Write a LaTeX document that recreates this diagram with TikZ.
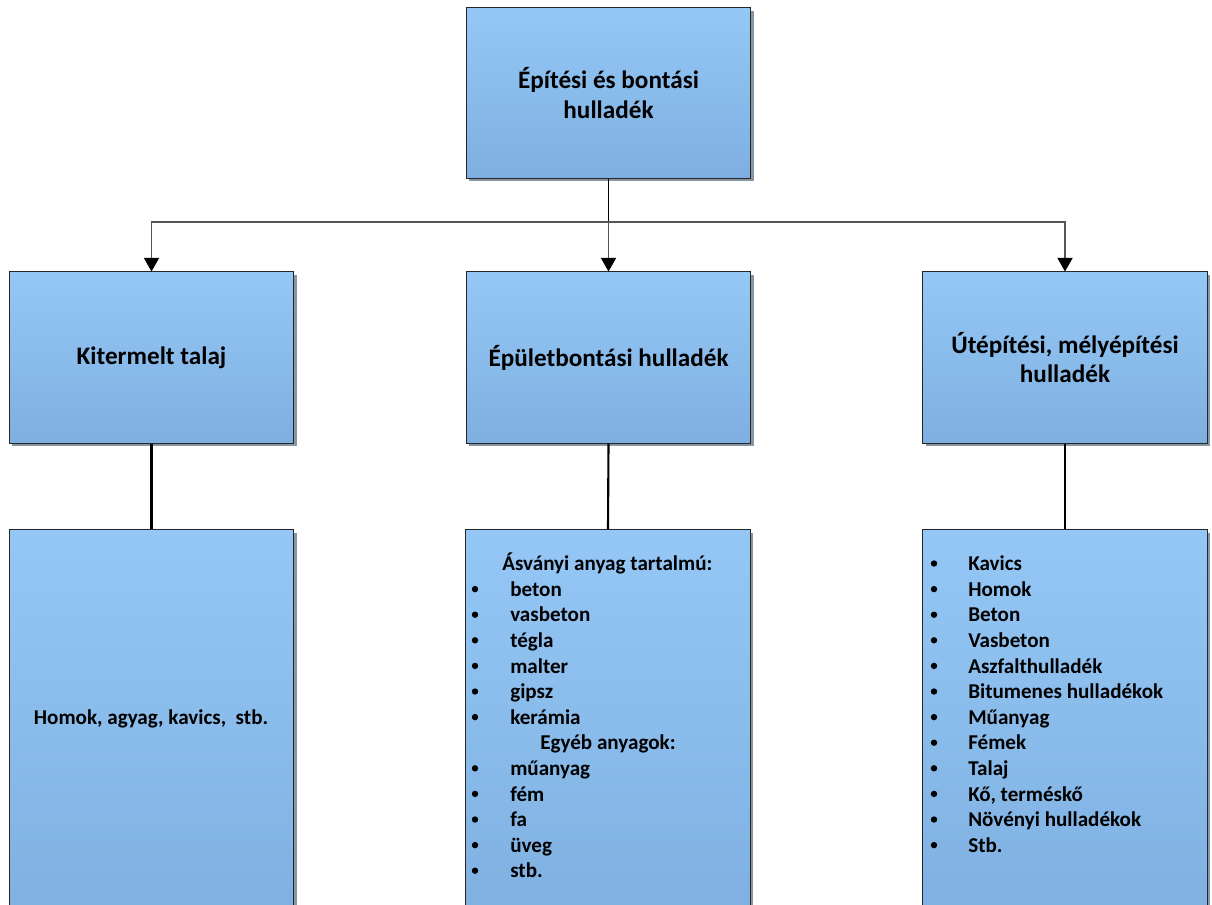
\documentclass[tikz,border=0pt]{standalone}
\usepackage{fontspec}
\setmainfont{Carlito}
\usetikzlibrary{arrows.meta,shadows}
\definecolor{boxtop}{RGB}{148,199,246}
\definecolor{boxbot}{RGB}{126,175,224}
\definecolor{shad}{RGB}{135,150,162}
\definecolor{conn}{RGB}{85,85,85}
\begin{document}
\begin{tikzpicture}[x=0.025cm,y=-0.025cm,
  box/.style={draw=black!85, line width=0.7pt, top color=boxtop, bottom color=boxbot,
    minimum width=7.1cm, drop shadow={shadow xshift=0.075cm, shadow yshift=-0.075cm, fill=shad, opacity=1},
    align=center, font=\fontsize{17.9}{20.8}\selectfont\bfseries, inner sep=0pt},
  item/.style={inner sep=0pt, font=\fontsize{15}{18}\selectfont\bfseries},
  dot/.style={circle, fill=black, inner sep=0pt, minimum size=0.16cm},
  feed/.style={draw=conn, line width=0.75pt, -{Triangle[width=0.38cm,length=0.34cm,black]}},
  stem/.style={draw=black, line width=1.5pt}]
\path[use as bounding box] (0,0) rectangle (1212,904);
\clip (0,0) rectangle (1212,904);
% top
\node[box, minimum height=4.25cm] (top) at (608.5,93) {Építési és bontási\\hulladék};
% middle row
\node[box, minimum height=4.275cm] (kl) at (151.5,357.5) {Kitermelt talaj};
\node[box, minimum height=4.275cm] (km) at (608.5,357.5) {Épületbontási hulladék};
\node[box, minimum height=4.275cm] (kr) at (1065,357.5) {Útépítési, mélyépítési\\hulladék};
% bottom row
\node[box, minimum height=10cm] (bl) at (151.5,730) {};
\node[box, minimum height=10cm] (bm) at (608,730) {};
\node[box, minimum height=10cm] (br) at (1065,730) {};
% connectors
\coordinate (j) at (608.5,222);
\draw[stem, line width=1.1pt] (top.south) -- (j);
\draw[feed] (j) -| (kl.north);
\draw[feed] (j) -- (km.north);
\draw[feed] (j) -| (kr.north);
\draw[stem] (kl.south) -- (bl.north);
\draw[stem] (km.south) -- (bm.north);
\draw[stem] (kr.south) -- (br.north);
% left bottom text
\node[item, anchor=base] (lt) at (151,724) {Homok, agyag, kavics,\ \ stb.};
% middle list
\node[item, anchor=base west] (mh1) at (502,570.7) {Ásványi anyag tartalmú:};
\foreach \t [count=\i] in {beton,vasbeton,tégla,malter,gipsz,kerámia}{
  \node[dot] (mb\i) at (475,{563.5+25.6*\i}) {};
  \node[item, anchor=base west] (mt\i) at (510,{570.7+25.6*\i}) {\t};
}
\node[item, anchor=base west] (mh2) at (540,{570.7+25.6*7}) {Egyéb anyagok:};
\foreach \t [count=\i from 8] in {műanyag,fém,fa,üveg,stb.}{
  \node[dot] (mb\i) at (475,{563.5+25.6*\i}) {};
  \node[item, anchor=base west] (mt\i) at (510,{570.7+25.6*\i}) {\t};
}
% right list
\foreach \t [count=\i from 0] in {Kavics,Homok,Beton,Vasbeton,Aszfalthulladék,Bitumenes hulladékok,Műanyag,Fémek,Talaj,{Kő, terméskő},Növényi hulladékok,Stb.}{
  \node[dot] (rb\i) at (934,{563.5+25.6*\i}) {};
  \node[item, anchor=base west] (rt\i) at (968,{570.7+25.6*\i}) {\t};
}
\end{tikzpicture}
\end{document}
